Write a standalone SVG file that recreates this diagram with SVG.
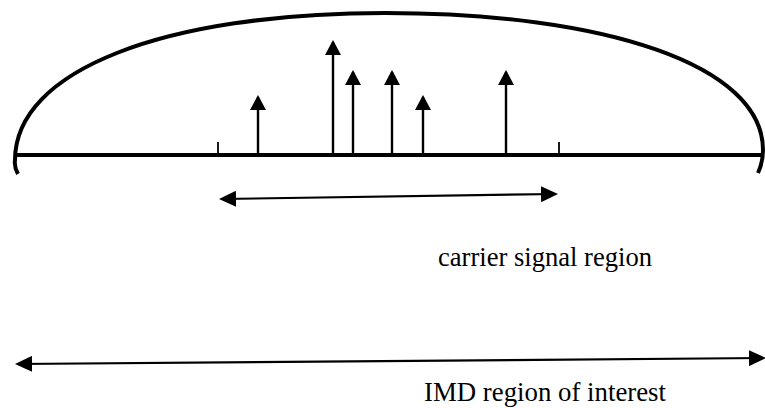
<svg xmlns="http://www.w3.org/2000/svg" width="765" height="408" viewBox="0 0 765 408">
<style>
.axis{stroke:#000;stroke-width:4;fill:none}
.env{stroke:#000;stroke-width:4;fill:none}
.spike{stroke:#000;stroke-width:2.4;fill:none;marker-end:url(#head)}
.tick{stroke:#000;stroke-width:1.8}
.span{stroke:#000;stroke-width:2.2;fill:none;marker-start:url(#head2);marker-end:url(#head2)}
.lbl{font-family:"Liberation Serif","Times New Roman",serif;font-size:27.5px;fill:#000}
</style>
<defs>
<marker id="head" viewBox="0 0 15 16" markerWidth="15" markerHeight="16" refX="13" refY="8" orient="auto" markerUnits="userSpaceOnUse">
<path d="M0,0 L15,8 L0,16 z" fill="#000"/>
</marker>
<marker id="head2" viewBox="0 0 17 16" markerWidth="17" markerHeight="16" refX="15" refY="8" orient="auto-start-reverse" markerUnits="userSpaceOnUse">
<path d="M0,0 L17,8 L0,16 z" fill="#000"/>
</marker>
</defs>
<g id="envelope">
<path class="env" d="M18,174 Q14,167 15,160 C15,70 165,13 385,13 C605,13 763,65 763,150 Q763,162 758,173"/>
</g>
<g id="axis">
<line class="axis" x1="15" y1="155" x2="763" y2="155"/>
<line class="tick" x1="218" y1="142" x2="218" y2="155"/>
<line class="tick" x1="559" y1="142" x2="559" y2="155"/>
</g>
<g id="carriers">
<line class="spike" x1="258" y1="155" x2="258" y2="97"/>
<line class="spike" x1="333" y1="155" x2="333" y2="42"/>
<line class="spike" x1="353" y1="155" x2="353" y2="72"/>
<line class="spike" x1="392" y1="155" x2="392" y2="72"/>
<line class="spike" x1="423" y1="155" x2="423" y2="97"/>
<line class="spike" x1="506" y1="155" x2="506" y2="72"/>
</g>
<g id="connectors">
<line class="span" x1="221" y1="199" x2="556" y2="194"/>
<line class="span" x1="17" y1="364" x2="764" y2="358"/>
</g>
<g id="labels">
<text class="lbl" x="438" y="266" textLength="214" lengthAdjust="spacingAndGlyphs">carrier signal region</text>
<text class="lbl" x="424" y="401" textLength="242" lengthAdjust="spacingAndGlyphs">IMD region of interest</text>
</g>
</svg>
